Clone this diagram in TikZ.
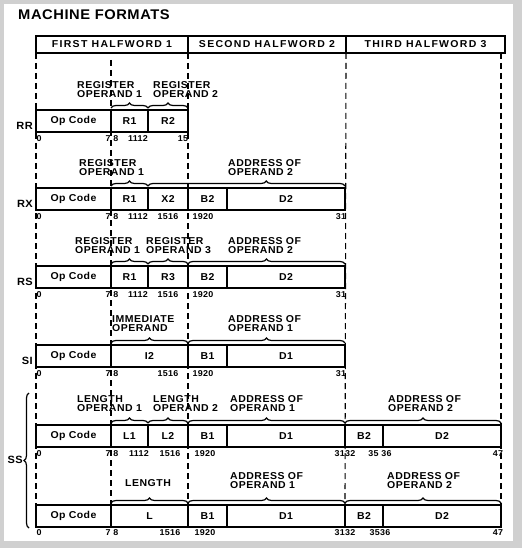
\documentclass[tikz,border=0pt]{standalone}
\usepackage{fontspec}
\newfontfamily\ibmfont{Liberation Sans}[FakeStretch=1.05,LetterSpace=4]
\usetikzlibrary{positioning,decorations.pathreplacing,backgrounds}
\definecolor{ScanGray}{HTML}{D0D0D0}

\begin{document}
\begin{tikzpicture}[x=1pt, y=-1pt,
    field/.style={draw, line width=1.7pt, fill=white, minimum height=22pt,
                  inner sep=0pt, outer sep=0pt,
                  font=\ibmfont\bfseries\fontsize{10}{11}\selectfont},
    half/.style={draw, line width=1.7pt, minimum height=17pt,
                 inner sep=0pt, outer sep=0pt,
                 font={\ibmfont\bfseries\fontsize{10}{11}\selectfont\addfontfeature{LetterSpace=13}}},
    lbl/.style={anchor=north west, align=left, inner sep=0pt,
                font={\ibmfont\bfseries\fontsize{10}{9.2}\selectfont\addfontfeature{LetterSpace=5}}},
    bits/.style={inner sep=0pt, font=\ibmfont\bfseries\fontsize{8.5}{9}\selectfont},
    rowlbl/.style={inner sep=0pt, font=\ibmfont\bfseries\fontsize{10.5}{11}\selectfont},
    brc/.style={decorate, decoration={brace, amplitude=5pt}, line width=1.2pt},
    guide/.style={dash pattern=on 6pt off 4pt, line width=1.1pt},
  ]
    \useasboundingbox (0,0) rectangle (522,548);

    % ── Title and halfword header ───────────────────────────────────────
    \node[anchor=north west, inner sep=0pt,
          font=\ibmfont\bfseries\fontsize{14}{15}\selectfont] (title) at (18,10) {MACHINE FORMATS};
    \node[half, minimum width=152pt, anchor=north west] (hw1) at (36,36) {FIRST HALFWORD 1};
    \node[half, minimum width=158pt, right=0pt of hw1] (hw2) {SECOND HALFWORD 2};
    \node[half, minimum width=159pt, right=0pt of hw2] (hw3) {THIRD HALFWORD 3};

    % ── RR ───────────────────────────────────────────────────────────────
    \node[field, minimum width=75pt, anchor=north west] (rrop) at (36,110) {Op Code};
    \node[field, minimum width=37pt, right=0pt of rrop] (rrr1) {R1};
    \node[field, minimum width=40pt, right=0pt of rrr1] (rrr2) {R2};
    \node[rowlbl, left=3pt of rrop, yshift=-5pt] (rrlbl) {RR};
    \node[lbl] (rrt1) at (77,81)  {REGISTER\\OPERAND 1};
    \node[lbl] (rrt2) at (153,81) {REGISTER\\OPERAND 2};
    \foreach \nx/\nt [count=\i] in {39/0, 112/7 8, 138/1112, 183/15}
      \node[bits] (rrbit\i) at (\nx,139) {\nt};

    % ── RX ───────────────────────────────────────────────────────────────
    \node[field, minimum width=75pt, anchor=north west] (rxop) at (36,188) {Op Code};
    \node[field, minimum width=37pt, right=0pt of rxop] (rxr1) {R1};
    \node[field, minimum width=40pt, right=0pt of rxr1] (rxx2) {X2};
    \node[field, minimum width=39pt, right=0pt of rxx2] (rxb2) {B2};
    \node[field, minimum width=118pt, right=0pt of rxb2] (rxd2) {D2};
    \node[rowlbl, left=3pt of rxop, yshift=-5pt] (rxlbl) {RX};
    \node[lbl] (rxt1) at (79,159)  {REGISTER\\OPERAND 1};
    \node[lbl] (rxt2) at (228,159) {ADDRESS OF\\OPERAND 2};
    \foreach \nx/\nt [count=\i] in {39/0, 112/7 8, 138/1112, 168/1516, 203/1920, 341/31}
      \node[bits] (rxbit\i) at (\nx,217) {\nt};

    % ── RS ───────────────────────────────────────────────────────────────
    \node[field, minimum width=75pt, anchor=north west] (rsop) at (36,266) {Op Code};
    \node[field, minimum width=37pt, right=0pt of rsop] (rsr1) {R1};
    \node[field, minimum width=40pt, right=0pt of rsr1] (rsr3) {R3};
    \node[field, minimum width=39pt, right=0pt of rsr3] (rsb2) {B2};
    \node[field, minimum width=118pt, right=0pt of rsb2] (rsd2) {D2};
    \node[rowlbl, left=3pt of rsop, yshift=-5pt] (rslbl) {RS};
    \node[lbl] (rst1) at (75,237)  {REGISTER\\OPERAND 1};
    \node[lbl] (rst3) at (146,237) {REGISTER\\OPERAND 3};
    \node[lbl] (rst2) at (228,237) {ADDRESS OF\\OPERAND 2};
    \foreach \nx/\nt [count=\i] in {39/0, 112/7 8, 138/1112, 168/1516, 203/1920, 341/31}
      \node[bits] (rsbit\i) at (\nx,295) {\nt};

    % ── SI ───────────────────────────────────────────────────────────────
    \node[field, minimum width=75pt, anchor=north west] (siop) at (36,345) {Op Code};
    \node[field, minimum width=77pt, right=0pt of siop] (sii2) {I2};
    \node[field, minimum width=39pt, right=0pt of sii2] (sib1) {B1};
    \node[field, minimum width=118pt, right=0pt of sib1] (sid1) {D1};
    \node[rowlbl, left=3pt of siop, yshift=-5pt] (silbl) {SI};
    \node[lbl] (sit2) at (112,315) {IMMEDIATE\\OPERAND};
    \node[lbl] (sit1) at (228,315) {ADDRESS OF\\OPERAND 1};
    \foreach \nx/\nt [count=\i] in {39/0, 112/7 8, 168/1516, 203/1920, 341/31}
      \node[bits] (sibit\i) at (\nx,374) {\nt};

    % ── SS, first form ───────────────────────────────────────────────────
    \node[field, minimum width=75pt, anchor=north west] (saop) at (36,425) {Op Code};
    \node[field, minimum width=37pt, right=0pt of saop] (sal1) {L1};
    \node[field, minimum width=40pt, right=0pt of sal1] (sal2) {L2};
    \node[field, minimum width=39pt, right=0pt of sal2] (sab1) {B1};
    \node[field, minimum width=118pt, right=0pt of sab1] (sad1) {D1};
    \node[field, minimum width=38pt, right=0pt of sad1] (sab2) {B2};
    \node[field, minimum width=118pt, right=0pt of sab2] (sad2) {D2};
    \node[lbl] (sat1) at (77,395)  {LENGTH\\OPERAND 1};
    \node[lbl] (sat2) at (153,395) {LENGTH\\OPERAND 2};
    \node[lbl] (sat3) at (230,395) {ADDRESS OF\\OPERAND 1};
    \node[lbl] (sat4) at (388,395) {ADDRESS OF\\OPERAND 2};
    \foreach \nx/\nt [count=\i] in {39/0, 112/7 8, 139/1112, 170/1516, 205/1920,
                                    345/3132, 380/35 36, 498/47}
      \node[bits] (sabit\i) at (\nx,454) {\nt};

    % ── SS, second form ──────────────────────────────────────────────────
    \node[field, minimum width=75pt, anchor=north west] (ss2op) at (36,505) {Op Code};
    \node[field, minimum width=77pt, right=0pt of ss2op] (ss2l) {L};
    \node[field, minimum width=39pt, right=0pt of ss2l] (ss2b1) {B1};
    \node[field, minimum width=118pt, right=0pt of ss2b1] (ss2d1) {D1};
    \node[field, minimum width=38pt, right=0pt of ss2d1] (ss2b2) {B2};
    \node[field, minimum width=118pt, right=0pt of ss2b2] (ss2d2) {D2};
    \node[lbl] (ss2t1) at (125,479) {LENGTH};
    \node[lbl] (ss2t2) at (230,472) {ADDRESS OF\\OPERAND 1};
    \node[lbl] (ss2t3) at (387,472) {ADDRESS OF\\OPERAND 2};
    \foreach \nx/\nt [count=\i] in {39/0, 112/7 8, 170/1516, 205/1920,
                                    345/3132, 380/3536, 498/47}
      \node[bits] (ss2bit\i) at (\nx,533) {\nt};

    % ── SS bracket ───────────────────────────────────────────────────────
    \coordinate (sstop) at (29,393);
    \coordinate (ssbot) at (29,528);
    \draw[brc] (ssbot) -- (sstop);
    \node[rowlbl, anchor=east] (sslbl) at (23,460) {SS};

    % ── Field braces ─────────────────────────────────────────────────────
    \foreach \a/\b in {rrr1/rrr1, rrr2/rrr2, rxr1/rxr1,
                       rsr1/rsr1, rsr3/rsr3, rsb2/rsd2,
                       sii2/sii2, sib1/sid1,
                       sal1/sal1, sal2/sal2, sab1/sad1, sab2/sad2,
                       ss2l/ss2l, ss2b1/ss2d1, ss2b2/ss2d2}
      \draw[brc] ([yshift=2pt]\a.north west) -- ([yshift=2pt]\b.north east);
    \draw[brc, decoration={aspect=0.6}] ([yshift=2pt]rxx2.north west) -- ([yshift=2pt]rxd2.north east);

    % ── Panel and dashed bit guides ──────────────────────────────────────
    \begin{scope}[on background layer]
      \fill[ScanGray] (0,0) rectangle (522,548);
      \fill[white] (4,4) rectangle (513,541);
      \draw[guide] (hw1.south west) -- (ss2op.north west);
      \draw[guide] (rrop.north east |- hw1.south) ++(0,7) -- (ss2op.north east);
      \draw[guide] (hw1.south east) -- (ss2l.north east);
      \draw[guide] (hw2.south east) -- (ss2d1.north east);
      \draw[guide] (ss2d2.north east |- hw3.south) -- (ss2d2.north east);
    \end{scope}
  \end{tikzpicture}
\end{document}
